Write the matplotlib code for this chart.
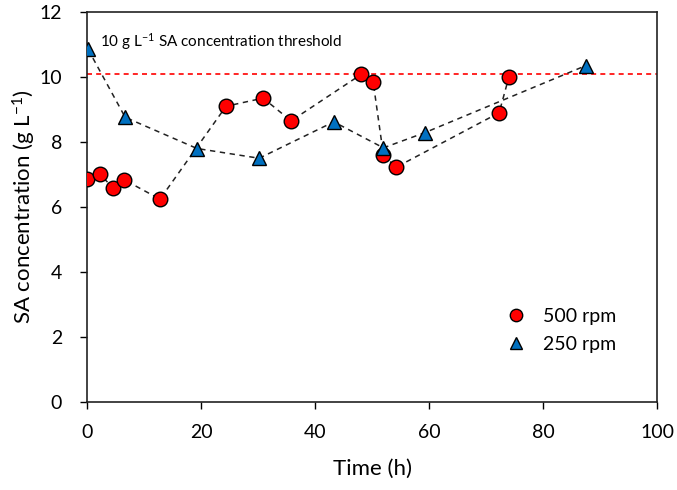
import matplotlib
matplotlib.use("Agg")
import matplotlib.pyplot as plt

plt.rcParams['font.family'] = ['Lato', 'DejaVu Sans']
plt.rcParams['mathtext.fontset'] = 'custom'
plt.rcParams['mathtext.rm'] = 'Lato'
plt.rcParams['mathtext.default'] = 'regular'

# 500 rpm (red circles)
t_500 = [0, 2.2, 4.5, 6.5, 12.8, 24.4, 30.9, 35.8, 48.1, 50.2, 52.0, 54.2, 72.3, 74.0]
sa_500 = [6.85, 7.02, 6.6, 6.84, 6.24, 9.1, 9.35, 8.65, 10.08, 9.85, 7.6, 7.22, 8.9, 9.99]

# 250 rpm (blue triangles)
t_250 = [0.2, 6.7, 19.3, 30.2, 43.3, 52.0, 59.3, 87.5]
sa_250 = [10.85, 8.76, 7.8, 7.5, 8.62, 7.82, 8.29, 10.35]

threshold = 10.08

fig, ax = plt.subplots(figsize=(6.77, 4.90), dpi=100)
fig.subplots_adjust(left=0.1285, right=0.9705, top=0.9755, bottom=0.1796)

ax.axhline(threshold, color='#FF0000', ls=(0, (3, 2.5)), lw=1.2, zorder=1)

ax.plot(t_500, sa_500, ls=(0, (3.5, 3)), color='#222222', lw=1.1, zorder=2)
ax.plot(t_250, sa_250, ls=(0, (3.5, 3)), color='#222222', lw=1.1, zorder=2)
ax.plot(t_500, sa_500, ls='none', marker='o', ms=10.5, mfc='#FF0000',
        mec='black', mew=1.0, label='500 rpm', zorder=3)
ax.plot(t_250, sa_250, ls='none', marker='^', ms=10, mfc='#0070C0',
        mec='black', mew=1.0, label='250 rpm', zorder=4)

ax.text(2.3, 11.1, '10 g L$^{-1}$ SA concentration threshold', fontsize=11,
        va='center', ha='left')

ax.set_xlim(0, 100)
ax.set_ylim(0, 12)
ax.set_xticks([0, 20, 40, 60, 80, 100])
ax.set_yticks([0, 2, 4, 6, 8, 10, 12])
ax.tick_params(direction='out', length=5, width=1, labelsize=14)
ax.tick_params(axis='x', pad=11)
ax.tick_params(axis='y', pad=13)
for s in ax.spines.values():
    s.set_linewidth(1.2)
    s.set_color('#222222')

ax.set_xlabel('Time (h)', fontsize=16, labelpad=13)
ax.set_ylabel('SA concentration (g L$^{-1}$)', fontsize=16, labelpad=1)

ax.legend(loc='lower right', bbox_to_anchor=(0.96, 0.08), frameon=False,
          fontsize=14, handletextpad=0.4, labelspacing=0.6, markerscale=0.85)

fig.savefig('out.png', dpi=100)
